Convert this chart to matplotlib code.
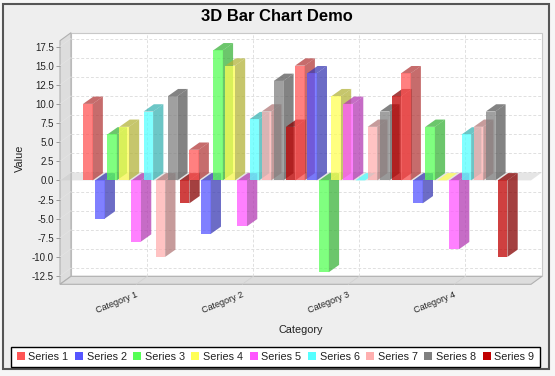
import matplotlib
matplotlib.use('Agg')
import matplotlib.pyplot as plt
from matplotlib.patches import Patch, Polygon, Rectangle

plt.rcParams['font.family'] = ['Liberation Sans', 'DejaVu Sans']

categories = ['Category 1', 'Category 2', 'Category 3', 'Category 4']
series_names = ['Series 1', 'Series 2', 'Series 3', 'Series 4', 'Series 5',
                'Series 6', 'Series 7', 'Series 8', 'Series 9']
series1 = [10, 4, 15, 14]
series2 = [-5, -7, 14, -3]
series3 = [6, 17, -12, 7]
series4 = [7, 15, 11, 0]
series5 = [-8, -6, 10, -9]
series6 = [9, 8, 0, 6]
series7 = [-10, 9, 7, 7]
series8 = [11, 13, 9, 9]
series9 = [-3, 7, 11, -10]
all_series = [series1, series2, series3, series4, series5,
              series6, series7, series8, series9]
colors = ['#FF5555', '#5555FF', '#55FF55', '#FFFF55', '#FF55FF',
          '#55FFFF', '#FFAFAF', '#808080', '#C00000']
y_ticks = [-12.5, -10, -7.5, -5, -2.5, 0, 2.5, 5, 7.5, 10, 12.5, 15, 17.5]

W, H = 555, 376
fig = plt.figure(figsize=(W / 100, H / 100), dpi=100, facecolor='#F6F6F6')

# background layer in pixels: panel, frame, title
bg = fig.add_axes([0, 0, 1, 1])
bg.set_xlim(0, W)
bg.set_ylim(H, 0)
bg.axis('off')
bg.add_patch(Rectangle((2.5, 4), 546.5, 365, fc='#EEEEEE', ec='#555555', lw=1.5))
bg.text(276.5, 16.5, '3D Bar Chart Demo', ha='center', va='center',
        fontsize=11.9, fontweight='bold', color='black')
bg.text(20, 158, 'Value', rotation=90, ha='center', va='center',
        fontsize=7.8, color='#222222')
bg.text(301, 330, 'Category', ha='center', va='center',
        fontsize=7.8, color='#222222')

# main axes is the front plane of the 3D box
left, right, top, bottom = 60, 531, 40.7, 284.3
ax = fig.add_axes([left / W, (H - bottom) / H, (right - left) / W, (bottom - top) / H])
ax.patch.set_visible(False)
x_min, x_max = -0.719, 3.724
y_min, y_max = -13.58, 18.26
ax.set_xlim(x_min, x_max)
ax.set_ylim(y_min, y_max)
px_x = (x_max - x_min) / (right - left)
px_y = (y_max - y_min) / (bottom - top)

wall_dx, wall_dy = 11 * px_x, 8 * px_y
bar_dx, bar_dy = 10.3 * px_x, 7.3 * px_y
step = 12.1 * px_x
width = 9.5 * px_x
wall_edge = '#B0B0B0'


def poly(points, fc, ec='none', lw=0, z=1):
    ax.add_patch(Polygon(points, closed=True, fc=fc, ec=ec, lw=lw, zorder=z, clip_on=False))


# walls
poly([(x_min + wall_dx, y_min + wall_dy), (x_max + wall_dx, y_min + wall_dy),
      (x_max + wall_dx, y_max + wall_dy), (x_min + wall_dx, y_max + wall_dy)],
     'white', '#C8C8C8', 0.8, 1)
poly([(x_min, y_min), (x_min + wall_dx, y_min + wall_dy),
      (x_min + wall_dx, y_max + wall_dy), (x_min, y_max)], '#DDDDDD', wall_edge, 0.8, 1)
poly([(x_min, y_min), (x_max, y_min), (x_max + wall_dx, y_min + wall_dy),
      (x_min + wall_dx, y_min + wall_dy)], '#DDDDDD', wall_edge, 0.8, 1)

# gridlines on the back wall, with the joins across the walls
for v in y_ticks:
    ax.plot([x_min + wall_dx, x_max + wall_dx], [v + wall_dy] * 2, color='#E0E0E0',
            lw=0.7, ls=(0, (3, 2)), zorder=2, clip_on=False)
    ax.plot([x_min, x_min + wall_dx], [v, v + wall_dy], color='#E4E4E4', lw=0.5,
            zorder=2, clip_on=False)
for i in range(len(categories)):
    ax.plot([i + wall_dx] * 2, [y_min + wall_dy, y_max + wall_dy], color='#E0E0E0',
            lw=0.7, ls=(0, (3, 2)), zorder=2, clip_on=False)
    ax.plot([i, i + wall_dx], [y_min, y_min + wall_dy], color='#D0D0D0', lw=0.5,
            zorder=2, clip_on=False)

# band at the zero line
poly([(x_min, 0), (x_max, 0), (x_max + wall_dx, wall_dy), (x_min + wall_dx, wall_dy)],
     (0.78, 0.78, 0.78, 0.45), z=3)

# bars, category by category
z = 4
for c in range(len(categories)):
    for s, values in enumerate(all_series):
        v = values[c]
        rgb = matplotlib.colors.to_rgb(colors[s])
        dark = tuple(k * 0.7 for k in rgb) + (0.75,)
        x0 = c + (s - 4) * step - width / 2
        x1 = x0 + width
        ax.bar(x0, v, width=width, align='edge', color=rgb + (0.75,), linewidth=0,
               zorder=z + 2, clip_on=False)
        if v != 0:
            poly([(x1, 0), (x1, v), (x1 + bar_dx, v + bar_dy), (x1 + bar_dx, bar_dy)], dark, z=z)
        top_v = max(v, 0)
        top_fc = rgb + (0.75,) if v == 0 else dark
        poly([(x0, top_v), (x1, top_v), (x1 + bar_dx, top_v + bar_dy), (x0 + bar_dx, top_v + bar_dy)],
             top_fc, z=z + 1)
        z += 3

# axes furniture
for name in ax.spines:
    ax.spines[name].set_visible(False)
ax.set_yticks(y_ticks)
ax.set_yticklabels(['%.1f' % v for v in y_ticks], fontsize=7, color='#222222')
ax.tick_params(axis='y', length=3, width=0.7, color='#999999', pad=1.5)
ax.set_xticks([])
for i, name in enumerate(categories):
    ax.annotate(name, xy=(i, y_min), xytext=(-19 * 0.72, -18 * 0.72),
                textcoords='offset points', ha='center', va='center',
                rotation=22, rotation_mode='anchor', fontsize=6.5, color='#222222')

handles = [Patch(fc=c, ec='none', label=n) for c, n in zip(colors, series_names)]
leg = fig.legend(handles=handles, ncol=9, loc='center', bbox_to_anchor=(275.5 / W, (H - 357) / H),
                 fontsize=7.85, frameon=True, fancybox=False, edgecolor='black', facecolor='white',
                 framealpha=1, handlelength=0.73, handleheight=0.73, handletextpad=0.34,
                 columnspacing=0.6, borderpad=0.5, borderaxespad=0, labelcolor='#222222')
leg.get_frame().set_linewidth(1)

fig.savefig('out.png', dpi=100, facecolor=fig.get_facecolor())
